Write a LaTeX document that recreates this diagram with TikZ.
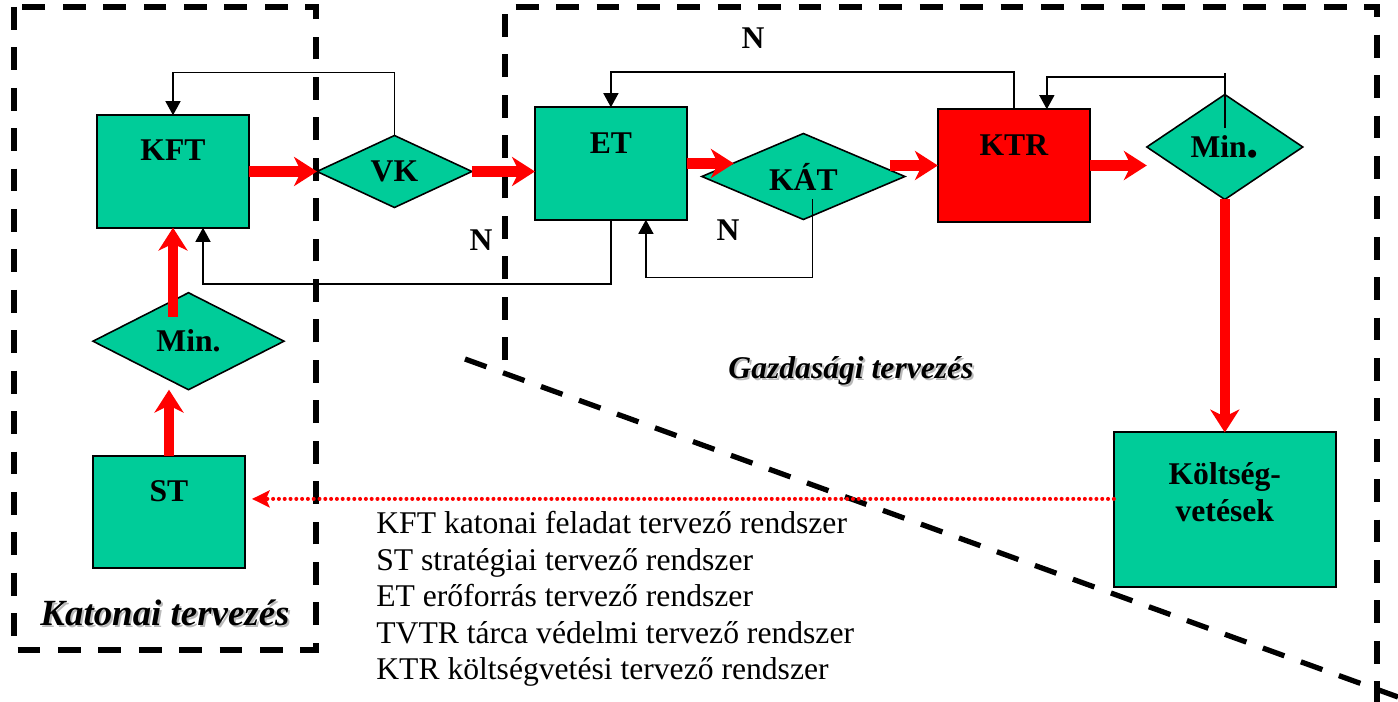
\documentclass[tikz,border=0pt]{standalone}
\usepackage{fontspec}
\setmainfont{Liberation Serif}
\usetikzlibrary{arrows.meta,positioning,shapes.geometric,calc}
\definecolor{zold}{RGB}{0,204,153}
\definecolor{piros}{RGB}{255,0,0}

\begin{document}
\begin{tikzpicture}[
  x=0.02cm, y=-0.02cm,
  lbl/.style={font=\bfseries\fontsize{18}{21}\selectfont},
  box/.style={draw, line width=1.1pt, fill=zold, minimum width=3.04cm,
              minimum height=2.25cm, inner sep=0pt, outer sep=0pt, lbl,
              text height=0.44cm, text depth=0.86cm},
  dontes/.style={draw, line width=0.9pt, fill=zold, diamond, aspect=2,
                 inner sep=0pt, outer sep=0pt, lbl},
  redarr/.style={-{Stealth[length=13pt, width=16.5pt, inset=4pt]},
                 line width=5.7pt, piros},
  fb/.style={line width=0.9pt},
  fbarr/.style={fb, -{Triangle[length=8pt, width=8.5pt]}},
  dotarr/.style={-{Stealth[length=10pt, width=9.6pt, inset=2pt]}, piros,
                 line width=2.3pt, line cap=round, dash pattern=on 0pt off 3.3pt},
  keret/.style={line width=3pt, dash pattern=on 13pt off 10pt},
  cim/.style={font=\bfseries\itshape\fontsize{21}{24}\selectfont},
  cimkis/.style={font=\bfseries\itshape\fontsize{18}{21}\selectfont}
]
\useasboundingbox (0,0) rectangle (1398,702);

% Frames
\draw[keret] (14,7) rectangle (316,650);
\draw[keret] (505,360) -- (505,7) -- (1377,7) -- (1377,702);
\draw[keret] (465,359) -- (1398,697);

% Nodes
\node[box] (KFT) at (173,171.5) {KFT};
\node[dontes, minimum width=3.10cm, minimum height=1.44cm, right=1.36cm of KFT] (VK) {VK};
\node[box, right=1.26cm of VK, yshift=0.16cm] (ET) {ET};
\node[dontes, minimum width=4.06cm, minimum height=1.72cm, right=0.3cm of ET, yshift=-0.26cm] (KAT) {KÁT};
\node[box, fill=piros, right=0.66cm of KAT, yshift=0.22cm] (KTR) {KTR};
\node[dontes, minimum width=3.12cm, minimum height=2.10cm, right=1.14cm of KTR, yshift=0.37cm] (MinR) {Min{\fontsize{28}{28}\selectfont.}};
\node[box, minimum width=4.44cm, minimum height=3.10cm, below=4.66cm of MinR] (KV) {};
\node[lbl, align=center] (KVtxt) at ($(KV.center)+(0,-17.5)$) {Költség-\\vetések};
\node[dontes, minimum width=3.82cm, minimum height=1.94cm, below=1.3cm of KFT, xshift=0.31cm] (MinL) {Min.};
\node[box, below=1.32cm of MinL, xshift=-0.39cm] (ST) {ST};

% Main flow
\draw[redarr] (KFT) -- (VK);
\draw[redarr] (VK.east) -- (VK.east -| ET.west);
\draw[redarr] (ET.east) -- (KAT.169 |- ET.east);
\draw[redarr, shorten <=-0.3cm] (KAT.east |- KTR.west) -- (KTR.west);
\draw[redarr] (KTR.east) -- (KTR.east -| MinR.west);
\draw[redarr] (MinR) -- (KV);
\draw[redarr] (ST.north) -- (ST.north |- MinL.south);
\draw[redarr] ($(KFT.south |- MinL.north)+(0,24)$) -- (KFT.south);

% Feedback loops
\draw[fbarr] (VK.north) -- ++(0,-63) -| (KFT.north);
\draw[fbarr] (ET.south) -- ++(0,64) -| ($(KFT.south)+(30,0)$);
\draw[fbarr] ($(KAT.center)+(9,23)$) -- ++(0,78) -| ($(ET.south)+(35,0)$);
\draw[fbarr] (KTR.north) -- ++(0,-37) -| (ET.north);
\draw[fb] ($(MinR.center)+(0,-19)$) -- ++(0,-55);
\draw[fbarr] ($(MinR.center)+(0,-70)$) -| ($(KTR.north)+(33,0)$);

\node[lbl] (n1) at (481,240) {N};
\node[lbl] (n2) at (753,38) {N};
\node[lbl] (n3) at (728,230) {N};

% Budget back to strategy
\coordinate (kvki) at ($(KV.west)+(0,-11)$);
\draw[dotarr, shorten >=0.14cm] (kvki) -- (kvki -| ST.east);

% Titles
\node[cim, text=gray!55] (katarnyek) at (167,615) {Katonai tervezés};
\node[cim] (katcim) at (165,613) {Katonai tervezés};
\node[cimkis, text=gray!55] (gazdarnyek) at (853,373) {Gazdasági tervezés};
\node[cimkis] (gazdcim) at (851,371) {Gazdasági tervezés};

% Legend
\node[font=\fontsize{18}{20.8}\selectfont, align=left, anchor=west, inner sep=0pt] (jelm) at (376,599)
  {KFT katonai feladat tervező rendszer\\
   ST stratégiai tervező rendszer\\
   ET erőforrás tervező rendszer\\
   TVTR tárca védelmi tervező rendszer\\
   KTR költségvetési tervező rendszer};

\end{tikzpicture}
\end{document}
